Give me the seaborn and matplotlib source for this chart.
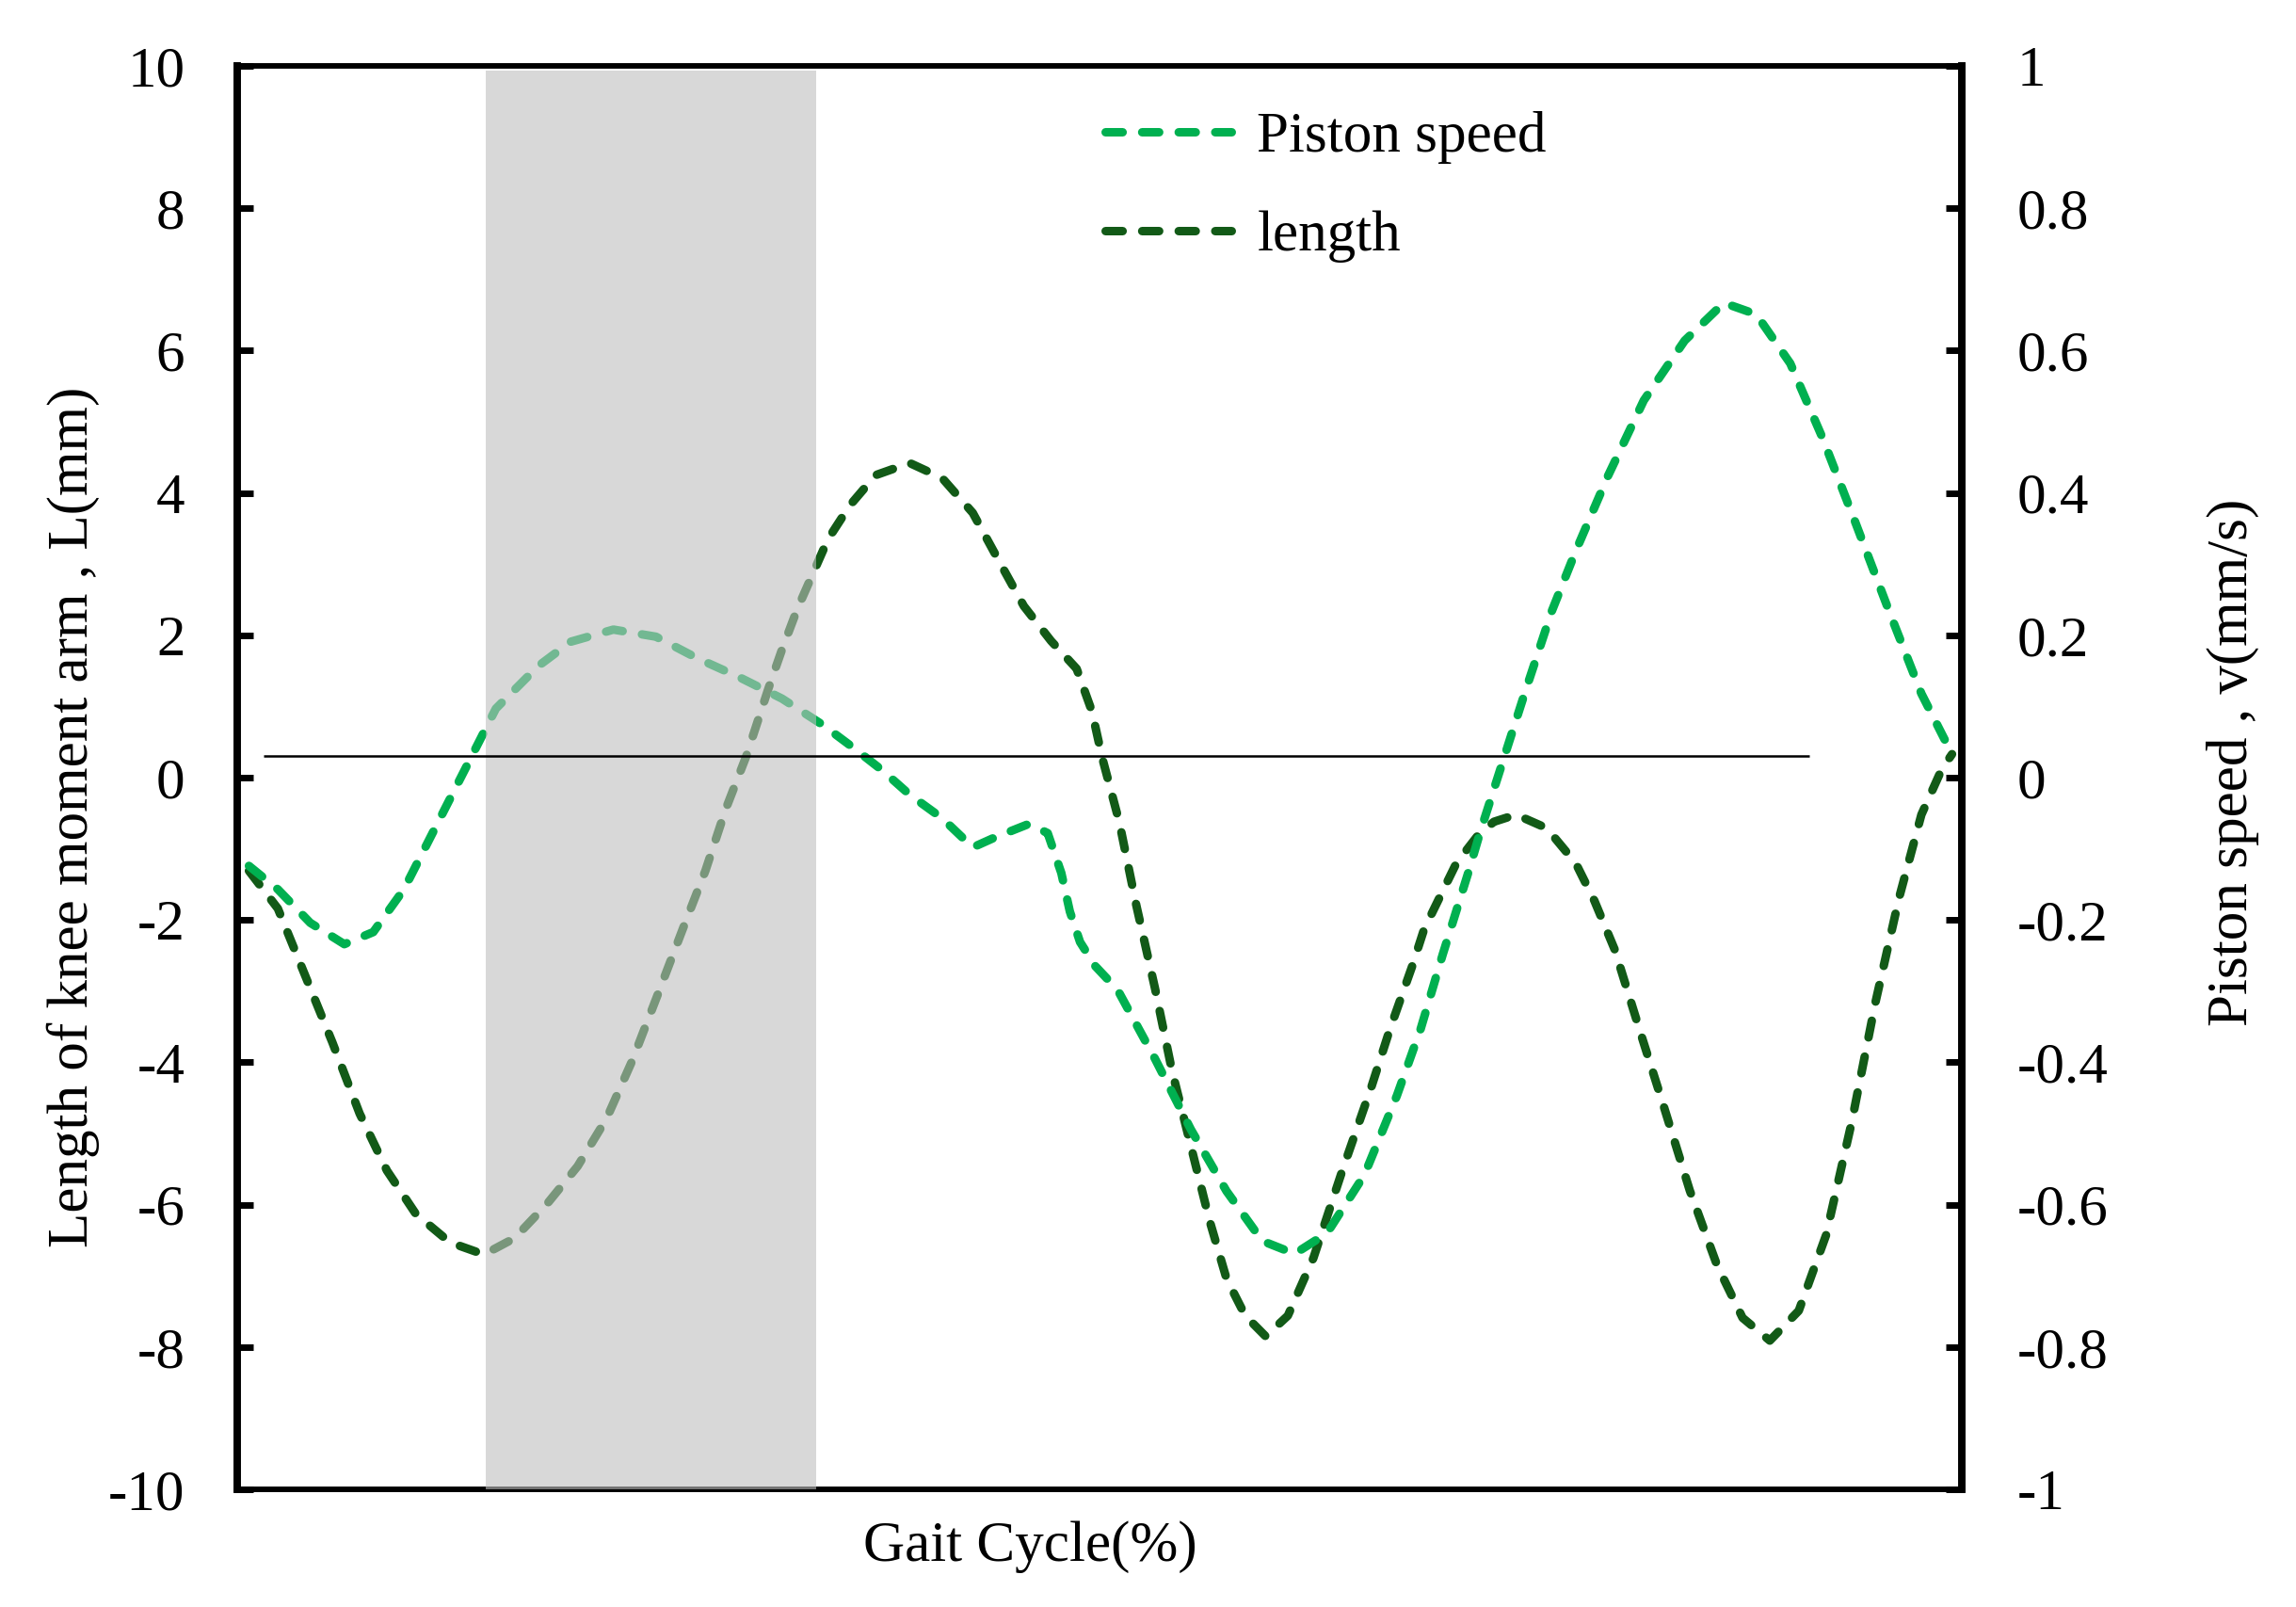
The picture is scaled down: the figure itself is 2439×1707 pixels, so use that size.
import matplotlib
matplotlib.use("Agg")
import matplotlib.pyplot as plt
import seaborn as sns

# gait cycle (%) and piston speed (mm/s)
speed_pct = [0, 1.7, 3.6, 5.6, 7.3, 9.1, 10.8, 12.8, 14.5, 17.0, 18.9, 21.4, 23.9, 26.3,
             28.8, 31.3, 33.7, 35.6, 37.2, 38.8, 40.7, 42.5, 43.8, 45.8, 46.9, 47.7, 48.2,
             48.8, 49.7, 51.0, 53.2, 55.3, 57.4, 59.5, 61.4, 63.3, 65.5, 67.4, 68.8, 70.1,
             71.6, 72.3, 73.6, 74.9, 76.5, 77.9, 79.8, 81.9, 84.3, 86.6, 88.5, 90.5, 92.4,
             94.3, 96.3, 98.2, 100]
piston_speed = [-0.124, -0.157, -0.204, -0.234, -0.217, -0.157, -0.077, 0.017, 0.097, 0.157,
                0.191, 0.208, 0.198, 0.168, 0.141, 0.111, 0.074, 0.040, 0.010, -0.024, -0.057,
                -0.098, -0.084, -0.065, -0.078, -0.134, -0.188, -0.231, -0.265, -0.298, -0.395,
                -0.494, -0.581, -0.651, -0.669, -0.640, -0.558, -0.447, -0.353, -0.248, -0.133,
                -0.076, 0.021, 0.118, 0.234, 0.318, 0.424, 0.530, 0.614, 0.667, 0.651, 0.582,
                0.477, 0.360, 0.234, 0.118, 0.033]

# gait cycle (%) and knee moment arm length (mm)
length_pct = [0, 1.7, 3.3, 4.9, 6.5, 8.1, 9.8, 11.8, 13.8, 15.6, 17.5, 19.3, 21.0, 22.5, 24.0,
              25.5, 26.8, 28.0, 29.2, 30.5, 31.3, 32.2, 33.1, 34.0, 35.3, 36.8, 38.8, 40.7,
              42.5, 44.0, 45.5, 47.1, 48.6, 49.5, 50.1, 51.1, 52.1, 53.2, 54.2, 55.3, 56.4,
              57.4, 58.5, 59.7, 61.0, 62.5, 64.2, 65.9, 67.0, 68.3, 69.0, 70.0, 70.9, 72.2,
              73.1, 74.4, 76.2, 77.9, 79.0, 80.2, 81.7, 83.1, 84.6, 86.2, 87.7, 89.3, 91.0,
              92.6, 94.1, 95.5, 96.9, 98.2, 99.4, 100]
arm_length = [-1.31, -1.84, -2.78, -3.72, -4.72, -5.52, -6.13, -6.53, -6.70, -6.47, -5.99,
              -5.46, -4.79, -3.98, -3.05, -2.11, -1.31, -0.44, 0.30, 1.25, 1.80, 2.37, 2.86,
              3.35, 3.83, 4.25, 4.42, 4.21, 3.72, 3.06, 2.41, 1.92, 1.53, 0.93, 0.28, -0.62,
              -1.79, -2.96, -4.12, -5.17, -6.22, -7.04, -7.56, -7.85, -7.56, -6.75, -5.52,
              -4.35, -3.53, -2.65, -2.13, -1.64, -1.20, -0.80, -0.62, -0.52, -0.71, -1.20,
              -1.73, -2.42, -3.58, -4.64, -5.80, -6.85, -7.59, -7.91, -7.49, -6.43, -4.85,
              -3.16, -1.68, -0.52, 0.12, 0.33]

left_ticks = [-10, -8, -6, -4, -2, 0, 2, 4, 6, 8, 10]
left_labels = ["-10", "-8", "-6", "-4", "-2", "0", "2", "4", "6", "8", "10"]
right_ticks = [-1, -0.8, -0.6, -0.4, -0.2, 0, 0.2, 0.4, 0.6, 0.8, 1]
right_labels = ["-1", "-0.8", "-0.6", "-0.4", "-0.2", "0", "0.2", "0.4", "0.6", "0.8", "1"]

span_pct = (13.9, 33.3)      # shaded phase
ref_line = (0.86, 91.6, 0.3)  # x start, x end, level on the length axis

sns.set_style("white")
plt.rcParams["font.family"] = ["Liberation Serif", "DejaVu Serif"]
plt.rcParams["axes.unicode_minus"] = False
for key in ("text.color", "axes.labelcolor", "xtick.color", "ytick.color"):
    plt.rcParams[key] = "black"
fs = 44

fig = plt.figure(figsize=(24.39, 17.07), dpi=100)
ax1 = fig.add_axes([0.1033, 0.0732, 0.7512, 0.8858])
ax2 = ax1.twinx()

dash = (0, (2.0, 2.3))
sns.lineplot(x=length_pct, y=arm_length, ax=ax1, color="#125a17", linewidth=6.5,
             linestyle=dash)
sns.lineplot(x=speed_pct, y=piston_speed, ax=ax2, color="#00b050", linewidth=6.5,
             linestyle=dash)
for ln in ax1.lines + ax2.lines:
    ln.set_dash_capstyle("round")

# gray band on top of the curves
ax2.axvspan(span_pct[0], span_pct[1], ymin=0, ymax=0.997, color="#bfbfbf", alpha=0.6,
            lw=0, zorder=5)
ax2.hlines(ref_line[2] / 10, ref_line[0], ref_line[1], color="black", lw=1.8, zorder=6)

ax1.set_xlim(-0.69, 100.58)
ax1.set_ylim(-10, 10)
ax2.set_ylim(-1, 1)
ax1.set_xticks([])
ax1.set_yticks(left_ticks)
ax1.set_yticklabels(left_labels, fontsize=fs)
ax2.set_yticks(right_ticks)
ax2.set_yticklabels(right_labels, fontsize=fs)
ax1.tick_params(axis="y", direction="in", length=12, width=5, pad=40, left=True)
ax2.tick_params(axis="y", direction="in", length=12, width=5, pad=42, right=True)

for ax in (ax1, ax2):
    for side in ("left", "right"):
        ax.spines[side].set_linewidth(5.5)
    for side in ("top", "bottom"):
        ax.spines[side].set_linewidth(4)
    for sp in ax.spines.values():
        sp.set_color("black")

ax1.set_xlabel("Gait Cycle(%)", fontsize=fs)
ax1.xaxis.set_label_coords(0.46, -0.022)
ax1.set_ylabel("Length of knee moment arm , L(mm)", fontsize=fs, va="center")
ax1.yaxis.set_label_coords(-0.095, 0.472)
ax2.set_ylabel("Piston speed , v(mm/s)", fontsize=fs, va="center", rotation=90)
ax2.yaxis.set_label_coords(1.157, 0.511)

handles = [ax2.lines[0], ax1.lines[0]]
ax2.legend(handles, ["Piston speed", "length"], loc="upper left",
           bbox_to_anchor=(0.503, 0.968), frameon=False, fontsize=fs,
           handlelength=2.2, handletextpad=0.45, labelspacing=0.8,
           borderpad=0, borderaxespad=0)

fig.savefig("out.png", dpi=100)
